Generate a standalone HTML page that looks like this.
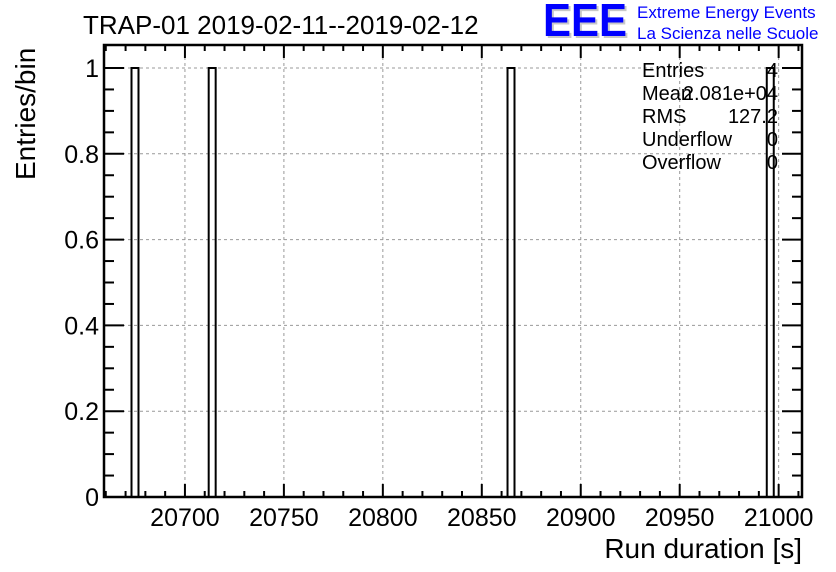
<!DOCTYPE html>
<html><head><meta charset="utf-8"><style>
body{margin:0;background:#fff;}
svg{display:block;font-family:"Liberation Sans",Arial,sans-serif;}
</style></head><body>
<svg id="c" width="836" height="572">
<text x="83" y="34" font-size="26">TRAP-01 2019-02-11--2019-02-12</text>
<text x="545" y="38" font-size="46" font-weight="bold" fill="#c8c8c8" textLength="84" lengthAdjust="spacingAndGlyphs">EEE</text>
<text x="543" y="36" font-size="46" font-weight="bold" fill="#0000ff" textLength="84" lengthAdjust="spacingAndGlyphs">EEE</text>
<text x="637" y="18" font-size="17" fill="#0000ff">Extreme Energy Events</text>
<text x="637" y="39" font-size="17" fill="#0000ff">La Scienza nelle Scuole</text>
<g id="grid"></g><g id="bars"></g><g id="axes"></g>
<g font-size="20">
<text x="642" y="77">Entries</text><text x="778" y="77" text-anchor="end">4</text>
<text x="642" y="100">Mean</text><text x="778" y="100" text-anchor="end">2.081e+04</text>
<text x="642" y="123">RMS</text><text x="778" y="123" text-anchor="end">127.2</text>
<text x="642" y="146">Underflow</text><text x="778" y="146" text-anchor="end">0</text>
<text x="642" y="169">Overflow</text><text x="778" y="169" text-anchor="end">0</text>
</g>
<text x="802" y="558" font-size="28" text-anchor="end">Run duration [s]</text>
<text transform="translate(35,180) rotate(-90)" font-size="28">Entries/bin</text>
</svg>
<script>
const binStarts=[20673,20712,20863,20994];
const binCounts=[1,1,1,1];
const binWidth=3.527;
const xTicks=[20700,20750,20800,20850,20900,20950,21000];
const yTicks=[0,0.2,0.4,0.6,0.8,1];
const L=104,R=802,T=45,B=497,xmin=20659.1,xmax=21011.8;
const X=v=>L+(v-xmin)/(xmax-xmin)*(R-L);
const Y=v=>B-v*(B-68);
const NS="http://www.w3.org/2000/svg";
function mk(p,t,a){const e=document.createElementNS(NS,t);for(const k in a)e.setAttribute(k,a[k]);document.getElementById(p).appendChild(e);return e;}
xTicks.forEach(v=>{const e=mk('grid','line',{x1:X(v),x2:X(v),y1:T,y2:B,stroke:'#999','stroke-dasharray':'3,3'});

});
yTicks.slice(1).forEach(v=>{const e=mk('grid','line',{x1:L,x2:R,y1:Y(v),y2:Y(v),stroke:'#999','stroke-dasharray':'3,3'});

});
binStarts.forEach((s,i)=>{const x0=X(s),x1=X(s+binWidth);const e=mk('bars','rect',{x:x0,y:Y(binCounts[i]),width:x1-x0,height:B-Y(binCounts[i]),fill:'none',stroke:'#000','stroke-width':2});

});
const fr=mk('axes','rect',{x:L,y:T,width:R-L,height:B-T,fill:'none',stroke:'#000','stroke-width':2.5});


for(let v=20660;v<=xmax;v+=10){const maj=v%50===0;const len=maj?13:6;
mk('axes','line',{x1:X(v),x2:X(v),y1:B,y2:B-len,stroke:'#000','stroke-width':2});
mk('axes','line',{x1:X(v),x2:X(v),y1:T,y2:T+len,stroke:'#000','stroke-width':2});}
xTicks.forEach(v=>{const e=mk('axes','text',{x:X(v),y:526,'font-size':25,'text-anchor':'middle'});e.textContent=v;

});
for(let k=0;k<=20;k++){const v=k*0.05;const len=k%4===0?20:10;
mk('axes','line',{x1:L,x2:L+len,y1:Y(v),y2:Y(v),stroke:'#000','stroke-width':2});
mk('axes','line',{x1:R,x2:R-len,y1:Y(v),y2:Y(v),stroke:'#000','stroke-width':2});}
yTicks.forEach(v=>{const e=mk('axes','text',{x:99,y:Y(v)+9,'font-size':25,'text-anchor':'end'});e.textContent=String(+v.toFixed(1));

});
</script>
</body></html>
